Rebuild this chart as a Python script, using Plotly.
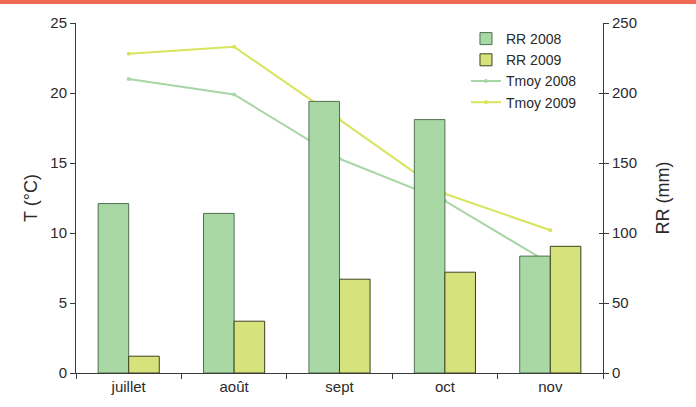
import plotly.graph_objects as go

# Monthly data, July to November
months = ["juillet", "août", "sept", "oct", "nov"]
rr_2008 = [121, 114, 194, 181, 83.5]     # rainfall, mm (right axis)
rr_2009 = [12, 37, 67, 72, 90.5]
tmoy_2008 = [21.0, 19.9, 15.3, 12.3, 7.8]  # mean temperature, °C (left axis)
tmoy_2009 = [22.8, 23.3, 18.1, 12.8, 10.2]

FONT = "Liberation Sans, Arial, Helvetica, sans-serif"
AXIS_COLOR = "#3a3a3a"

fig = go.Figure()

fig.add_trace(go.Bar(
    x=months, y=rr_2008, name="RR 2008", yaxis="y2",
    marker=dict(color="#a8d9a4", line=dict(color="#4f6f52", width=1)),
))
fig.add_trace(go.Bar(
    x=months, y=rr_2009, name="RR 2009", yaxis="y2",
    marker=dict(color="#d6e37c", line=dict(color="#3e4020", width=1)),
))
fig.add_trace(go.Scatter(
    x=months, y=tmoy_2008, name="Tmoy 2008", mode="lines+markers", yaxis="y",
    line=dict(color="#a9d6a6", width=2), marker=dict(size=4, color="#a9d6a6"),
))
fig.add_trace(go.Scatter(
    x=months, y=tmoy_2009, name="Tmoy 2009", mode="lines+markers", yaxis="y",
    line=dict(color="#d7e45c", width=2), marker=dict(size=4, color="#d7e45c"),
))

fig.update_layout(
    width=696, height=407,
    margin=dict(l=76, r=93, t=23, b=28),
    paper_bgcolor="white", plot_bgcolor="white",
    font=dict(family=FONT, size=15, color="#2a2a2a"),
    barmode="group", bargap=0.42, bargroupgap=0,
    showlegend=True,
    legend=dict(
        x=0.74, y=1.0, xanchor="left", yanchor="top",
        bgcolor="rgba(0,0,0,0)", font=dict(size=14),
        tracegroupgap=0, itemwidth=30, traceorder="normal",
    ),
    xaxis=dict(
        type="category", showline=True, linecolor=AXIS_COLOR, linewidth=1,
        ticks="outside", tickson="boundaries", ticklen=5, tickcolor=AXIS_COLOR,
        showgrid=False, zeroline=False,
    ),
    yaxis=dict(
        title=dict(text="T (°C)", standoff=8),
        range=[0, 25], tickvals=[0, 5, 10, 15, 20, 25],
        showline=True, linecolor=AXIS_COLOR, linewidth=1,
        ticks="outside", ticklen=5, tickcolor=AXIS_COLOR,
        showgrid=False, zeroline=False, layer="above traces",
    ),
    yaxis2=dict(
        title=dict(text="RR (mm)", standoff=20),
        range=[0, 250], tickvals=[0, 50, 100, 150, 200, 250],
        overlaying="y", side="right", anchor="x",
        showline=True, linecolor=AXIS_COLOR, linewidth=1,
        ticks="outside", ticklen=5, tickcolor=AXIS_COLOR,
        showgrid=False, zeroline=False,
    ),
    # inner half of the right-hand tick marks
    yaxis3=dict(
        range=[0, 250], tickvals=[0, 50, 100, 150, 200, 250],
        overlaying="y", side="right", anchor="x",
        showticklabels=False, showline=False,
        ticks="inside", ticklen=4, tickcolor=AXIS_COLOR,
        showgrid=False, zeroline=False,
    ),
    shapes=[dict(
        type="rect", xref="paper", yref="paper",
        x0=-0.2, x1=1.3, y0=1.054, y1=1.08,
        fillcolor="#ef6a52", line=dict(width=0), layer="above",
    )],
)

# invisible trace so the third axis is drawn
fig.add_trace(go.Scatter(
    x=months, y=rr_2009, yaxis="y3", mode="none", showlegend=False, hoverinfo="skip",
))

fig.write_html("out.html")
